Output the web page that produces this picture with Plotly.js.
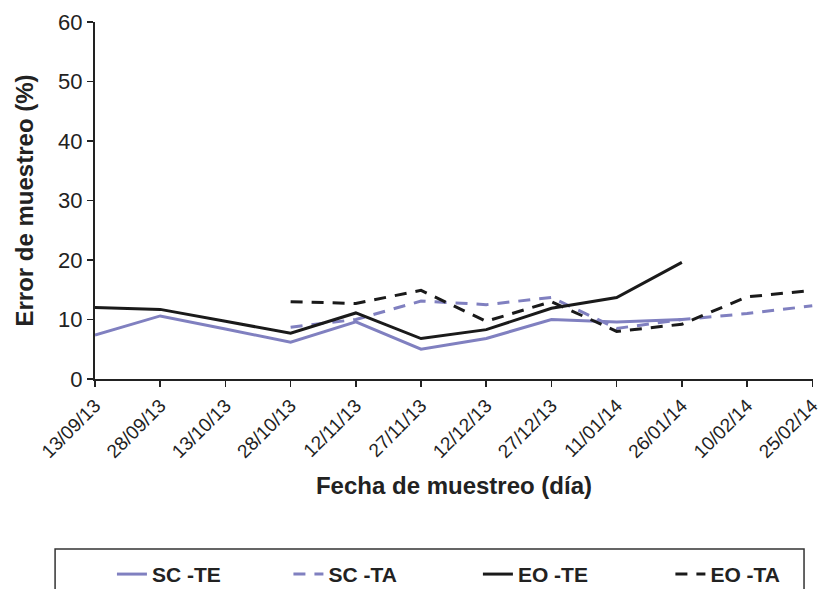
<!DOCTYPE html>
<html>
<head>
<meta charset="utf-8">
<script src="https://cdn.plot.ly/plotly-3.0.1.min.js"></script>
<style>html,body{margin:0;padding:0;background:#fff;}#chart{width:821px;height:589px;}</style>
</head>
<body>
<div id="chart"></div>
<script>
// Sampling dates (every 15 days)
const dates = ['2013-09-13','2013-09-28','2013-10-13','2013-10-28','2013-11-12','2013-11-27',
               '2013-12-12','2013-12-27','2014-01-11','2014-01-26','2014-02-10','2014-02-25'];
const tickLabels = ['13/09/13','28/09/13','13/10/13','28/10/13','12/11/13','27/11/13',
                    '12/12/13','27/12/13','11/01/14','26/01/14','10/02/14','25/02/14'];
// Series values (%), null = no sample
const scTE = [7.4, 10.6, 8.4, 6.2, 9.6, 5.0, 6.8, 10.0, 9.6, 10.0, null, null];
const scTA = [null, null, null, 8.7, 10.0, 13.1, 12.5, 13.7, 8.5, 10.0, 11.0, 12.3];
const eoTE = [12.0, 11.7, 9.7, 7.7, 11.1, 6.8, 8.3, 11.9, 13.7, 19.6, null, null];
const eoTA = [null, null, null, 13.0, 12.7, 14.9, 9.7, 13.0, 8.0, 9.2, 13.8, 14.9];
const seriesNames = ['SC -TE', 'SC -TA', 'EO -TE', 'EO -TA'];

const lav = '#8080c0', blk = '#1a1a1a';
const FONT = 'Arial, "Liberation Sans", sans-serif';

const traces = [
  {x: dates, y: scTE, name: seriesNames[0], legend: 'legend',  mode: 'lines', line: {color: lav, width: 3}},
  {x: dates, y: scTA, name: seriesNames[1], legend: 'legend2', mode: 'lines', line: {color: lav, width: 3, dash: '12px,9px'}},
  {x: dates, y: eoTE, name: seriesNames[2], legend: 'legend3', mode: 'lines', line: {color: blk, width: 3}},
  {x: dates, y: eoTA, name: seriesNames[3], legend: 'legend4', mode: 'lines', line: {color: blk, width: 3, dash: '12px,9px'}}
];

function leg(x) {
  return {
    orientation: 'h', x: x, xanchor: 'left', y: -0.49, yanchor: 'top',
    font: {family: FONT, size: 21, color: '#222', weight: 'bold'},
    bgcolor: 'rgba(0,0,0,0)', borderwidth: 0
  };
}

const layout = {
  width: 821, height: 589,
  margin: {l: 95, r: 8, t: 22, b: 210, autoexpand: false},
  paper_bgcolor: '#fff', plot_bgcolor: '#fff',
  font: {family: FONT, color: '#222'},
  showlegend: true,
  xaxis: {
    type: 'date',
    range: [dates[0], '2014-02-25 04:00'],
    tickmode: 'array', tickvals: dates, ticktext: tickLabels, tickangle: -45,
    ticklabeloverflow: 'allow',
    ticks: 'outside', ticklen: 6, tickwidth: 1.5, tickcolor: '#222',
    showline: true, linecolor: '#222', linewidth: 2,
    showgrid: false, zeroline: false,
    tickfont: {family: FONT, size: 19, color: '#222'},
    title: {text: 'Fecha de muestreo (día)', font: {family: FONT, size: 24, color: '#222', weight: 'bold'}, standoff: 16},
    automargin: false
  },
  yaxis: {
    range: [0, 60], dtick: 10,
    ticks: 'outside', ticklen: 6, tickwidth: 1.5, tickcolor: '#222',
    showline: true, linecolor: '#222', linewidth: 2,
    showgrid: false, zeroline: false,
    tickfont: {family: FONT, size: 22, color: '#222'},
    title: {text: 'Error de muestreo (%)', font: {family: FONT, size: 24, color: '#222', weight: 'bold'}, standoff: 18},
    automargin: false
  },
  legend: leg(0.0236),
  legend2: leg(0.2694),
  legend3: leg(0.5333),
  legend4: leg(0.8014),
  shapes: [{
    type: 'rect', xref: 'paper', yref: 'paper',
    x0: -0.0556, x1: 0.9875, y0: -0.476, y1: -0.7,
    line: {color: '#333', width: 1.5}, fillcolor: 'rgba(0,0,0,0)'
  }]
};

Plotly.newPlot('chart', traces, layout, {displayModeBar: false, staticPlot: true});
</script>
</body>
</html>
